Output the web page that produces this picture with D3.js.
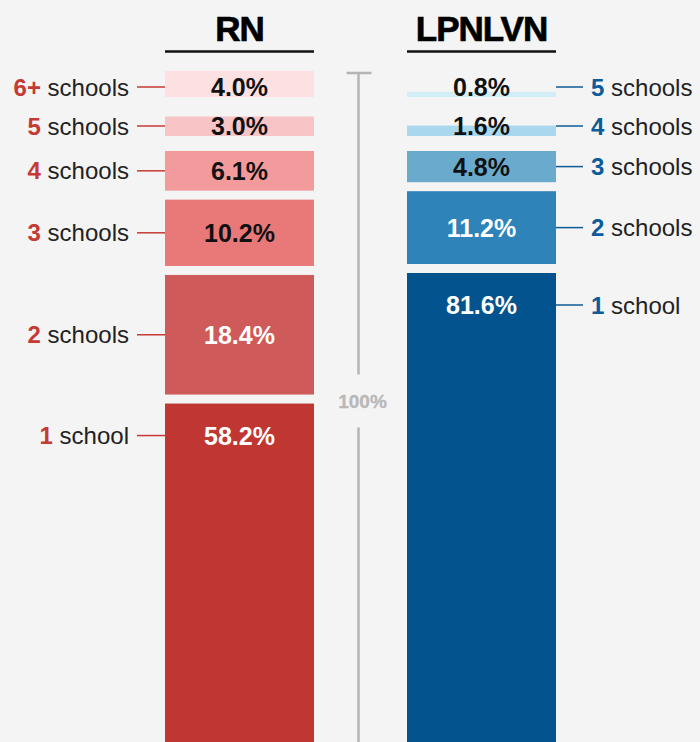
<!DOCTYPE html>
<html>
  <head>
    <meta charset="utf-8">
    <title>schools</title>
    <style>
    body{margin:0;background:#f4f4f4}
    svg{display:block}
    text{font-family:"Liberation Sans",Arial,sans-serif}
    </style>
  </head>
  <body>
    <svg width="700" height="742"></svg>
    <script src="https://d3js.org/d3.v7.min.js"></script>
    <script>

    // data, listed from the top of each bar to the bottom
    var bars = ["RN", "LPNLVN"];
    var rnSchools = ["6+", "5", "4", "3", "2", "1"];
    var rnShare = [4.0, 3.0, 6.1, 10.2, 18.4, 58.2];
    var lpnSchools = ["5", "4", "3", "2", "1"];
    var lpnShare = [0.8, 1.6, 4.8, 11.2, 81.6];

    var rnColors = ["#fde0e1", "#f8c4c6", "#f39b9c", "#e97879", "#cf5a5a", "#c03633"];
    var lpnColors = ["#d3edf7", "#a9d8ee", "#6aaacc", "#2e83b8", "#03538e"];
    var rnInk = "#c53a35", lpnInk = "#0d5b98";

    var W = 700, H = 742;
    var barTop = 73, gap = 9, minSlot = 30;

    var svg = d3.select("svg");

    var x = d3.scaleBand().domain(bars).range([165, 556]).paddingInner(0.3843);
    var h = d3.scaleLinear().domain([0, 100]).range([0, 650]);

    // titles + rules
    bars.forEach(function(b) {
      svg.append("text")
        .attr("x", x(b) + x.bandwidth() / 2).attr("y", 41)
        .attr("text-anchor", "middle")
        .style("font-size", "35px").style("font-weight", "bold")
        .style("letter-spacing", "-1px")
        .attr("fill", "#000").attr("stroke", "#000").attr("stroke-width", 0.7)
        .text(b);
      svg.append("line")
        .attr("x1", x(b)).attr("x2", x(b) + x.bandwidth())
        .attr("y1", 51.5).attr("y2", 51.5)
        .attr("stroke", "#111").attr("stroke-width", 2.5);
    });

    // 100% bracket between the bars
    var bx = Math.round((x("RN") + x.bandwidth() + x("LPNLVN")) / 2) - 3 + 0.5;
    var mid = (barTop + H) / 2;
    var br = svg.append("g").attr("stroke", "#b5b5b5").attr("stroke-width", 2.5);
    br.append("line").attr("x1", bx - 12).attr("x2", bx + 13).attr("y1", barTop).attr("y2", barTop);
    br.append("line").attr("x1", bx).attr("x2", bx).attr("y1", barTop).attr("y2", mid - 33);
    br.append("line").attr("x1", bx).attr("x2", bx).attr("y1", mid + 20).attr("y2", H + 10);
    svg.append("text")
      .attr("x", bx + 4).attr("y", mid - 6)
      .attr("dy", "0.35em")
      .attr("text-anchor", "middle")
      .style("font-size", "19px").style("font-weight", "bold")
      .attr("fill", "#b8b8b8").attr("stroke", "#b8b8b8").attr("stroke-width", 0.3)
      .text("100%");

    // stack from the top; thin segments get a minimum slot so their label fits
    function layout(values) {
      var y = barTop;
      return values.map(function(v, i) {
        var bh = h(v);
        var thin = bh < minSlot;
        var slot = Math.max(bh, minSlot);
        var last = i === values.length - 1;
        var seg = {v: v, h: bh};
        seg.y = thin ? y + slot - 6 - bh : y;
        seg.ty = last ? seg.y + 32 : (thin ? seg.y + bh - 10 : seg.y + bh / 2);
        y += slot + gap;
        return seg;
      });
    }

    function drawBar(name, schools, values, colors, ink, side) {
      var segs = layout(values);
      var x0 = x(name), bw = x.bandwidth();
      var g = svg.append("g");

      g.selectAll("rect").data(segs).enter().append("rect")
        .attr("x", x0).attr("width", bw)
        .attr("y", function(d) { return d.y; })
        .attr("height", function(d) { return d.h; })
        .attr("fill", function(d, i) { return colors[i]; });

      g.selectAll("text.val").data(segs).enter().append("text")
        .attr("class", "val")
        .attr("x", x0 + bw / 2)
        .attr("y", function(d) { return d.ty; })
        .attr("dy", "0.36em")
        .attr("text-anchor", "middle")
        .style("font-size", "25px").style("font-weight", "bold")
        .attr("fill", function(d, i) { return i >= values.length - 2 ? "#fff" : "#111"; })
        .text(function(d) { return d.v.toFixed(1) + "%"; });

      // leader lines + labels
      var lx1 = side < 0 ? x0 - 28 : x0 + bw;
      var lx2 = side < 0 ? x0 : x0 + bw + 27;
      g.selectAll("line").data(segs).enter().append("line")
        .attr("x1", lx1).attr("x2", lx2)
        .attr("y1", function(d) { return d.ty; }).attr("y2", function(d) { return d.ty; })
        .attr("stroke", ink).attr("stroke-width", 1.5);

      var lab = g.selectAll("text.lab").data(segs).enter().append("text")
        .attr("class", "lab")
        .attr("x", side < 0 ? x0 - 36 : x0 + bw + 35)
        .attr("y", function(d) { return d.ty; })
        .attr("dy", "0.36em")
        .attr("text-anchor", side < 0 ? "end" : "start")
        .style("font-size", "24px");
      lab.append("tspan").attr("fill", ink).style("font-weight", "bold")
        .text(function(d, i) { return schools[i]; });
      lab.append("tspan").attr("fill", "#222")
        .text(function(d, i) { return schools[i] === "1" ? " school" : " schools"; });
    }

    drawBar("RN", rnSchools, rnShare, rnColors, rnInk, -1);
    drawBar("LPNLVN", lpnSchools, lpnShare, lpnColors, lpnInk, 1);

    </script>
  </body>
</html>
